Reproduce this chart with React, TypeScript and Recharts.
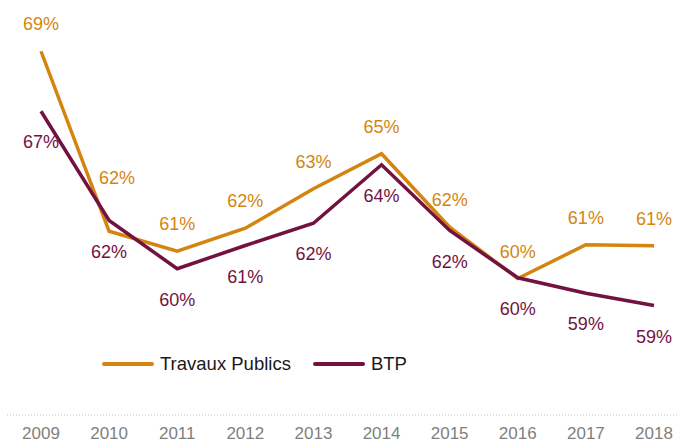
import React from 'react';
import { LineChart, Line, XAxis, YAxis, Legend } from 'recharts';

const FONT = '"Liberation Sans", Arial, sans-serif';

const years = ['2009', '2010', '2011', '2012', '2013', '2014', '2015', '2016', '2017', '2018'];
const travauxPublics = [68.95, 61.75, 60.95, 61.87, 63.45, 64.85, 61.91, 59.86, 61.21, 61.17];
const btp = [66.55, 62.18, 60.25, 61.18, 62.07, 64.41, 61.78, 59.89, 59.27, 58.78];

const ORANGE = '#d4850f';
const MAROON = '#731240';

const series = [
  { key: 'tp', name: 'Travaux Publics', color: ORANGE },
  { key: 'btp', name: 'BTP', color: MAROON },
];

// the 2010 orange label sits higher than the others in the original
const orangeNudge: Record<number, [number, number]> = { 1: [8, -26] };

const makeLabel = (color: string, dy: number, nudge: Record<number, [number, number]> = {}) =>
  (props: any) => {
    const { x, y, value, index } = props;
    const n = nudge[index] || [0, 0];
    return (
      <text
        key={`lbl-${color}-${index}`}
        x={x + n[0]}
        y={y + dy + n[1]}
        fill={color}
        fontSize={18}
        fontFamily={FONT}
        textAnchor="middle"
        dominantBaseline="central"
      >
        {Math.round(value)}%
      </text>
    );
  };

const renderLegend = () => (
  <div style={{ display: 'flex', alignItems: 'center', fontFamily: FONT, fontSize: 18.5, lineHeight: '20px', color: '#1a1a1a' }}>
    {series.map((s) => (
      <div key={s.key} style={{ display: 'flex', alignItems: 'center', marginRight: 22 }}>
        <span style={{ display: 'inline-block', width: 52, height: 4, borderRadius: 2, background: s.color, marginRight: 6 }} />
        <span>{s.name}</span>
      </div>
    ))}
  </div>
);

export default function App() {
  const data = years.map((year, i) => ({ year, tp: travauxPublics[i], btp: btp[i] }));

  return (
    <div style={{ position: 'absolute', left: 0, top: 0, width: 678, height: 444, background: '#fff' }}>
      <LineChart width={678} height={444} data={data} margin={{ top: 0, right: 0, bottom: 0, left: 7 }}>
        <XAxis
          dataKey="year"
          height={29}
          padding={{ left: 34, right: 24 }}
          interval={0}
          axisLine={{ stroke: '#bfbfbf', strokeDasharray: '1 2' }}
          tickLine={false}
          tickSize={0}
          tickMargin={12}
          tick={{ fill: '#7f7f7f', fontSize: 17, fontFamily: FONT }}
        />
        <YAxis hide domain={[54.4, 71]} allowDataOverflow />
        <Legend
          layout="horizontal"
          verticalAlign="middle"
          content={renderLegend}
          wrapperStyle={{ left: 102, top: 354, width: 'auto' }}
        />
        <Line
          type="linear"
          dataKey="tp"
          name="Travaux Publics"
          stroke={ORANGE}
          strokeWidth={3.5}
          dot={false}
          isAnimationActive={false}
          label={makeLabel(ORANGE, -27, orangeNudge)}
        />
        <Line
          type="linear"
          dataKey="btp"
          name="BTP"
          stroke={MAROON}
          strokeWidth={3.5}
          dot={false}
          isAnimationActive={false}
          label={makeLabel(MAROON, 31)}
        />
      </LineChart>
    </div>
  );
}
